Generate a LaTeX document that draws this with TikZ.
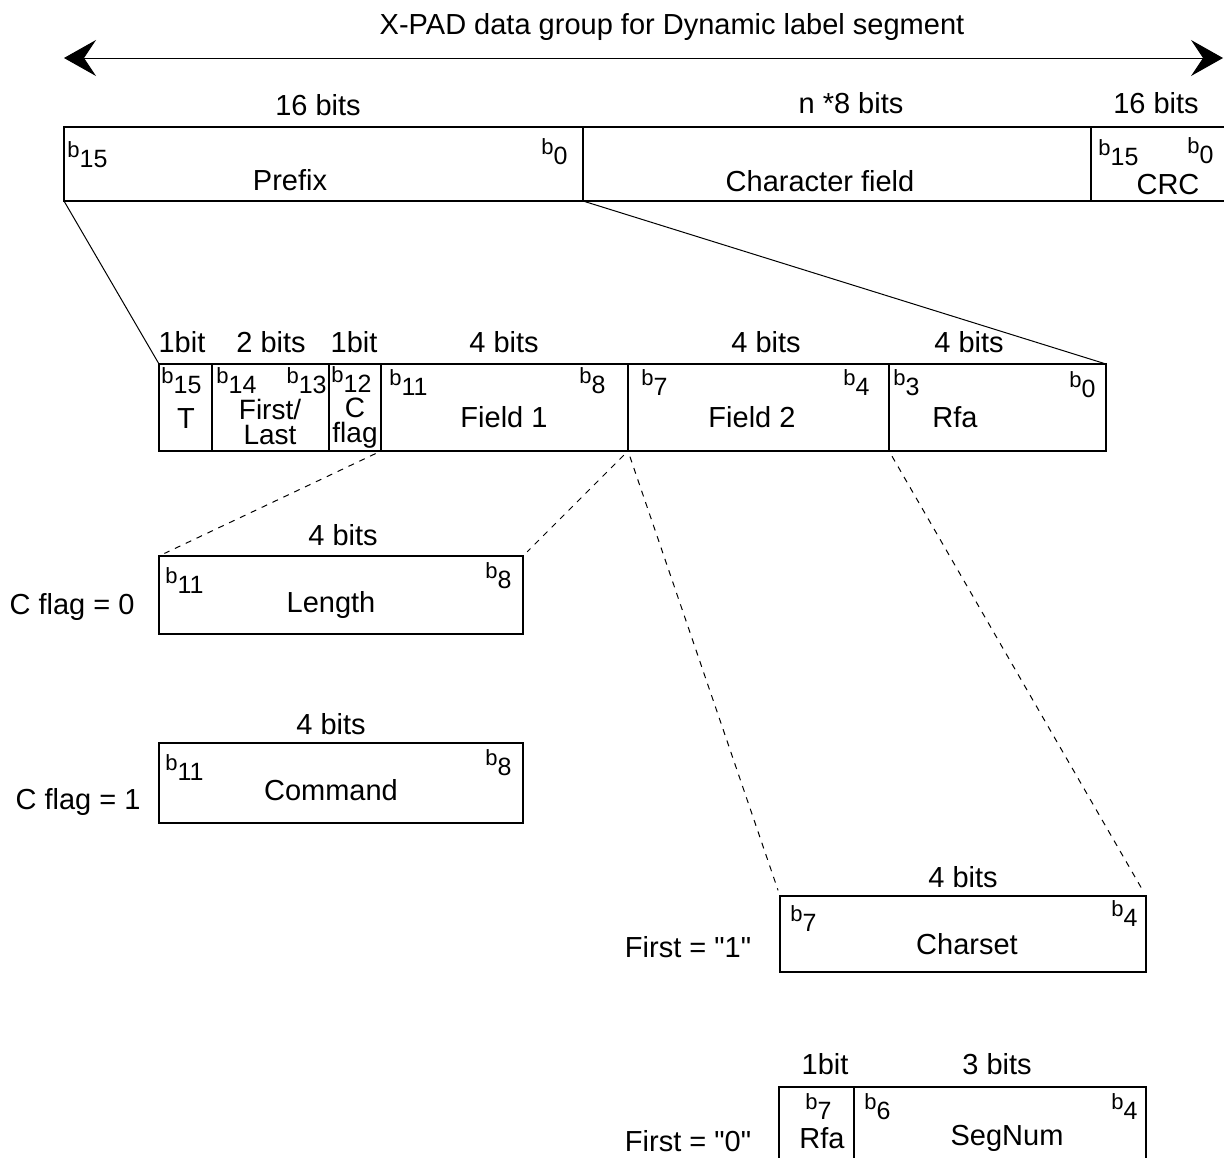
\documentclass[tikz,border=0pt]{standalone}
\usepackage{fontspec}
\setmainfont{Liberation Sans}
\newfontfamily\qfont{Liberation Sans}
\usetikzlibrary{arrows.meta}
\newcommand\bn[1]{{\fontsize{11}{11}\selectfont b}\raisebox{-5pt}{\fontsize{12.5}{12.5}\selectfont #1}}
\tikzset{
  cell/.style={draw, line width=1.1pt, inner sep=0pt, outer sep=0pt, anchor=north west},
  lbl/.style={inner sep=0pt, font=\fontsize{14.5}{14.5}\selectfont},
  bitnw/.style={inner sep=0pt, anchor=north west},
  bitne/.style={inner sep=0pt, anchor=north east},
  thinline/.style={line width=0.5pt},
  dashline/.style={line width=0.5pt, dash pattern=on 3pt off 3pt, shorten <=3pt, shorten >=3pt},
}
\begin{document}
\begin{tikzpicture}[x=0.5pt,y=-0.5pt]
\useasboundingbox (0,0) rectangle (1224,1157);
\clip (0,0) rectangle (1224,1157);
% top arrow
\coordinate (al) at (64,58);
\coordinate (ar) at (1223,58);
\draw[line width=0.5pt, {Stealth[length=16pt,width=18pt,inset=6pt]}-{Stealth[length=16pt,width=18pt,inset=6pt]}] (al) -- (ar);
\node[lbl] (title) at (672,27) {X-PAD data group for Dynamic label segment};
% top row
\node[cell, minimum width=259.5pt, minimum height=37pt] (prefix) at (64,127) {};
\node[cell, minimum width=254pt, minimum height=37pt] (charf) at (583,127) {};
\node[cell, minimum width=90pt, minimum height=37pt] (crc) at (1091,127) {};
\node[lbl] (w1) at (318,105) {16 bits};
\node[lbl] (w2) at (851,103) {n *8 bits};
\node[lbl] (w3) at (1156,103) {16 bits};
\node[bitnw] (pb15) at (67,141) {\bn{15}};
\node[bitne] (pb0) at (568,138) {\bn{0}};
\node[lbl] (prefixl) at (290,180) {Prefix};
\node[lbl] (charfl) at (820,181) {Character field};
\node[bitnw] (cb15) at (1098,139) {\bn{15}};
\node[bitne] (cb0) at (1214,137) {\bn{0}};
\node[lbl] (crcl) at (1168,185) {CRC};
% second row
\node[cell, minimum width=26.5pt, minimum height=43.5pt] (t) at (159,364) {};
\node[cell, minimum width=58.5pt, minimum height=43.5pt] (fl) at (212,364) {};
\node[cell, minimum width=26pt, minimum height=43.5pt] (cf) at (329,364) {};
\node[cell, minimum width=123.5pt, minimum height=43.5pt] (f1) at (381,364) {};
\node[cell, minimum width=130.5pt, minimum height=43.5pt] (f2) at (628,364) {};
\node[cell, minimum width=108.5pt, minimum height=43.5pt] (rfa) at (889,364) {};
\node[lbl] (s1) at (182,342) {1bit};
\node[lbl] (s2) at (271,342) {2 bits};
\node[lbl] (s3) at (354,342) {1bit};
\node[lbl] (s4) at (504,342) {4 bits};
\node[lbl] (s5) at (766,342) {4 bits};
\node[lbl] (s6) at (969,342) {4 bits};
\node[bitnw] (tb) at (161,367) {\bn{15}};
\node[bitnw] (flb14) at (216,367) {\bn{14}};
\node[bitne] (flb13) at (327,367) {\bn{13}};
\node[bitnw] (cfb) at (331,366) {\bn{12}};
\node[bitnw] (f1b11) at (389,369) {\bn{11}};
\node[bitne] (f1b8) at (606,367) {\bn{8}};
\node[bitnw] (f2b7) at (641,369) {\bn{7}};
\node[bitne] (f2b4) at (870,369) {\bn{4}};
\node[bitnw] (rfab3) at (893,369) {\bn{3}};
\node[bitne] (rfab0) at (1096,371) {\bn{0}};
\node[lbl] (tl) at (186,419) {T};
\node[lbl, align=center, font=\fontsize{14}{12.5}\selectfont] (fll) at (270,422) {First/\\Last};
\node[lbl, align=center, font=\fontsize{14}{12.5}\selectfont] (cfl) at (355,423) {C\\flag};
\node[lbl] (f1l) at (504,417) {Field 1};
\node[lbl] (f2l) at (752,417) {Field 2};
\node[lbl] (rfal) at (955,417) {Rfa};
% connectors
\draw[thinline] (prefix.south west) -- (t.north west);
\draw[thinline] (prefix.south east) -- (rfa.north east);
% length / command
\node[cell, minimum width=182pt, minimum height=39pt] (len) at (159,556) {};
\node[lbl] (lenw) at (343,535) {4 bits};
\node[lbl] (lenc) at (72,607) {C flag = 0};
\node[bitnw] (lenb11) at (165,567) {\bn{11}};
\node[bitne] (lenb8) at (512,562) {\bn{8}};
\node[lbl] (lenl) at (331,605) {Length};
\node[cell, minimum width=182pt, minimum height=40pt] (cmd) at (159,743) {};
\node[lbl] (cmdw) at (331,724) {4 bits};
\node[lbl] (cmdc) at (78,802) {C flag = 1};
\node[bitnw] (cmdb11) at (165,754) {\bn{11}};
\node[bitne] (cmdb8) at (512,749) {\bn{8}};
\node[lbl] (cmdl) at (331,790) {Command};
% charset
\node[cell, minimum width=183pt, minimum height=38pt] (chs) at (780,896) {};
\node[lbl] (chsw) at (963,877) {4 bits};
\node[lbl] (chsc) at (688,947) {\qfont First = "1"};
\node[bitnw] (chsb7) at (790,905) {\bn{7}};
\node[bitne] (chsb4) at (1138,900) {\bn{4}};
\node[lbl] (chsl) at (967,944) {Charset};
% segnum
\node[cell, minimum width=37.5pt, minimum height=50pt] (rfa2) at (779,1087) {};
\node[cell, minimum width=146pt, minimum height=50pt] (seg) at (854,1087) {};
\node[lbl] (sw1) at (825,1064) {1bit};
\node[lbl] (sw2) at (997,1064) {3 bits};
\node[lbl] (segc) at (688,1141) {\qfont First = "0"};
\node[bitnw] (rfa2b) at (805,1093) {\bn{7}};
\node[bitnw] (segb6) at (864,1093) {\bn{6}};
\node[bitne] (segb4) at (1138,1093) {\bn{4}};
\node[lbl] (rfa2l) at (822,1138) {Rfa};
\node[lbl] (segl) at (1007,1138) {SegNum};
% dashed connectors
\draw[dashline] (cf.south east) -- (len.north west);
\draw[dashline] (f1.south east) -- (len.north east);
\draw[dashline] (f1.south east) -- (chs.north west);
\draw[dashline] (rfa.south west) -- (chs.north east);
\end{tikzpicture}
\end{document}
